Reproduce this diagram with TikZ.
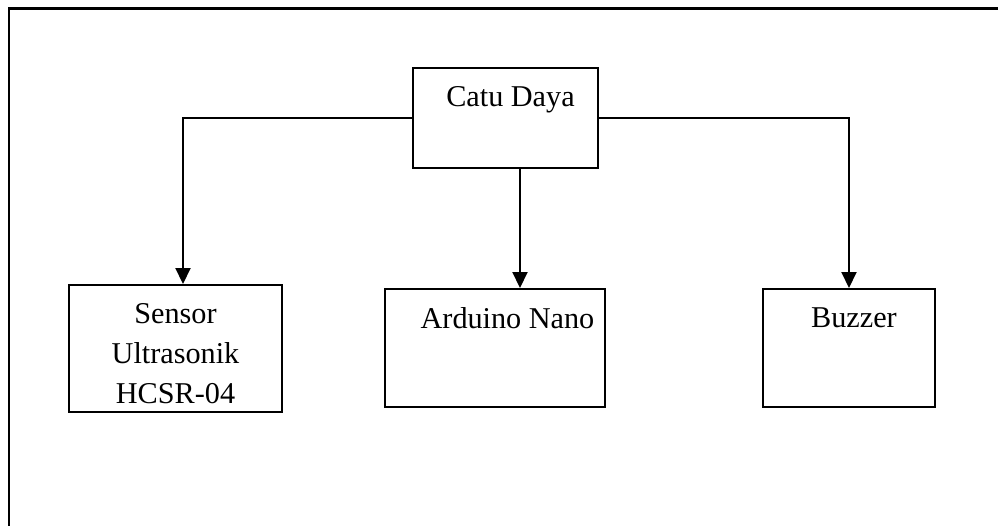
\documentclass[tikz,border=0pt]{standalone}
\usepackage{fontspec}
\setmainfont{Liberation Serif}
\usetikzlibrary{arrows.meta,calc}
% text box: [shift]{width}{height}{text}, text set at the top
\newcommand{\blokteks}[4][0cm]{\parbox[c][#3][t]{#2}{\centering\vspace*{0.37cm}\hspace*{#1}#4}}

\begin{document}
\begin{tikzpicture}[
  blok/.style={draw, line width=1.1pt, inner sep=0pt, font=\fontsize{17.2}{22.8}\selectfont},
  panah/.style={-{Triangle[length=0.32cm,width=0.3cm]}, line width=1.1pt}
]
\useasboundingbox (0,0) rectangle (19.96,10.52);

% Frame (only top and left edge visible)
\draw[line width=1.4pt] (0.18,0) -- (0.18,10.35) -- (19.96,10.35);

% ================= BLOCKS =================
\node[blok] (catu) at (10.11,8.16) {\blokteks[0.2cm]{3.7cm}{2.0cm}{Catu Daya}};

\node[blok] (sensor) at (3.51,3.55) {\blokteks{4.26cm}{2.54cm}{Sensor\\ Ultrasonik\\ HCSR-04}};

\node[blok] (arduino) at (9.9,3.56) {\blokteks[0.5cm]{4.4cm}{2.36cm}{Arduino Nano}};

\node[blok] (buzzer) at (16.98,3.56) {\blokteks[0.2cm]{3.44cm}{2.36cm}{Buzzer}};

% ================= CONNECTORS =================
\coordinate (tengah) at ($(catu.south)+(0.29,0)$);

\draw[panah] (catu.west) -| ($(sensor.north)+(0.15,0)$);
\draw[panah] (tengah) -- (tengah |- arduino.north);
\draw[panah] (catu.east) -| (buzzer.north);

\end{tikzpicture}
\end{document}
